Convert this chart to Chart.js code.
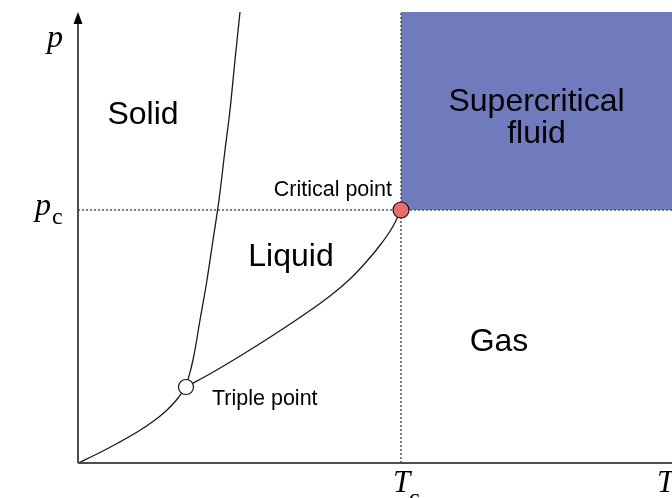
<!DOCTYPE html>
<html><head><meta charset="utf-8">
<script src="https://cdn.jsdelivr.net/npm/chart.js@4"></script>
<style>html,body{margin:0;padding:0;background:#fff;overflow:hidden}#wrap{width:672px;height:498px;position:relative}canvas{display:block}</style>
</head><body><div id="wrap"><canvas id="c"></canvas></div>
<script>
const T_MAX = 594, P_MAX = 451;
const T_C = 323, P_C = 253;
const T_TRIPLE = 108, P_TRIPLE = 76;
const sublimationT = [0, 20, 40, 60, 75, 88, 98, 108];
const sublimationP = [0, 9.5, 20, 31.5, 41.5, 52, 62.5, 76];
const vaporizationT = [108, 137, 167, 197, 227, 252, 272, 289, 303, 314, 323];
const vaporizationP = [76, 92, 110, 129, 149, 167, 184, 202, 219, 235, 253];
const meltingT = [108, 115, 122, 129, 135, 141, 147, 152, 157, 162];
const meltingP = [76, 103, 143, 183, 223, 263, 313, 353, 403, 451];
const regionNames = ['Solid', 'Liquid', 'Gas'];
const supercriticalLines = ['Supercritical', 'fluid'];
const pointNames = ['Critical point', 'Triple point'];

const toXY = (xs, ys) => xs.map((v, i) => ({x: v, y: ys[i]}));

const curveStyle = {borderColor: '#1a1a1a', borderWidth: 1.3, pointRadius: 0, tension: 0.4, fill: false, order: 5, clip: false};
const dotStyle = {borderColor: '#555', borderWidth: 1.5, borderDash: [2, 2], pointRadius: 0, fill: false, order: 8, clip: false};

const textPlugin = {
  id: 'texts',
  afterDatasetsDraw(chart) {
    const {ctx, scales: {x, y}, chartArea: a} = chart;
    const x0 = x.getPixelForValue(0), y0 = y.getPixelForValue(0);
    ctx.save();
    ctx.strokeStyle = '#4d4d4d'; ctx.lineWidth = 2;
    ctx.beginPath();
    ctx.moveTo(x0, y0); ctx.lineTo(a.right, y0);
    ctx.moveTo(x0, y0); ctx.lineTo(x0, a.top + 10);
    ctx.stroke();
    ctx.fillStyle = '#000';
    ctx.beginPath(); ctx.moveTo(x0, a.top); ctx.lineTo(x0 - 4.5, a.top + 12); ctx.lineTo(x0 + 4.5, a.top + 12); ctx.closePath(); ctx.fill();

    ctx.fillStyle = '#000';
    ctx.textAlign = 'center'; ctx.textBaseline = 'middle';
    ctx.font = '32px "Liberation Sans", Arial, sans-serif';
    ctx.fillText(regionNames[0], x.getPixelForValue(65), y.getPixelForValue(348));
    ctx.fillText(regionNames[1], x.getPixelForValue(213), y.getPixelForValue(206));
    ctx.fillText(regionNames[2], x.getPixelForValue(421), y.getPixelForValue(121));
    const cx = (x.getPixelForValue(T_C) + x.getPixelForValue(T_MAX)) / 2;
    ctx.fillText(supercriticalLines[0], cx, y.getPixelForValue(361));
    ctx.fillText(supercriticalLines[1], cx, y.getPixelForValue(329));

    ctx.font = '21.5px "Liberation Sans", Arial, sans-serif';
    ctx.textBaseline = 'alphabetic';
    ctx.textAlign = 'right';
    ctx.fillText(pointNames[0], x.getPixelForValue(T_C) - 9, y.getPixelForValue(P_C) - 14);
    ctx.textAlign = 'left';
    ctx.fillText(pointNames[1], x.getPixelForValue(T_TRIPLE) + 26, y.getPixelForValue(P_TRIPLE) + 18);

    // math axis labels
    ctx.font = 'italic 32px "Liberation Serif", serif';
    ctx.fillText('p', x0 - 31, a.top + 35);
    const ypc = y.getPixelForValue(P_C);
    ctx.fillText('p', x0 - 43, ypc + 5);
    const xtc = x.getPixelForValue(T_C);
    ctx.font = 'italic 31px "Liberation Serif", serif';
    ctx.fillText('T', xtc - 8, y0 + 29);
    ctx.fillText('T', a.right - 15, y0 + 29);
    ctx.font = '24px "Liberation Serif", serif';
    ctx.fillText('c', x0 - 26, ypc + 14);
    ctx.fillText('c', xtc + 8, y0 + 42);
    ctx.restore();
  }
};

new Chart(document.getElementById('c'), {
  type: 'line',
  data: {
    datasets: [
      {data: [{x: T_C, y: P_C}], showLine: false, pointRadius: 8, pointHoverRadius: 8, pointBackgroundColor: '#ec6b6b', pointBorderColor: '#111', pointBorderWidth: 1.2, order: 1, clip: false},
      {data: [{x: T_TRIPLE, y: P_TRIPLE}], showLine: false, pointRadius: 7.5, pointHoverRadius: 7.5, pointBackgroundColor: '#fff', pointBorderColor: '#111', pointBorderWidth: 1.2, order: 1, clip: false},
      {data: toXY(sublimationT, sublimationP), ...curveStyle},
      {data: toXY(vaporizationT, vaporizationP), ...curveStyle},
      {data: toXY(meltingT, meltingP), ...curveStyle},
      {data: [{x: 0, y: P_C}, {x: T_MAX, y: P_C}], ...dotStyle},
      {data: [{x: T_C, y: 0}, {x: T_C, y: P_MAX}], ...dotStyle},
      {data: [{x: T_C, y: P_MAX}, {x: T_MAX, y: P_MAX}], borderWidth: 0, pointRadius: 0, backgroundColor: 'rgb(111,123,189)', fill: {value: P_C}, order: 10, clip: false}
    ]
  },
  options: {
    animation: false, responsive: true, maintainAspectRatio: false,
    layout: {autoPadding: false, padding: {left: 78, top: 12, right: 0, bottom: 35}},
    scales: {
      x: {type: 'linear', min: 0, max: T_MAX, display: false},
      y: {type: 'linear', min: 0, max: P_MAX, display: false}
    },
    plugins: {legend: {display: false}, tooltip: {enabled: false}},
    events: []
  },
  plugins: [textPlugin]
});
</script></body></html>
